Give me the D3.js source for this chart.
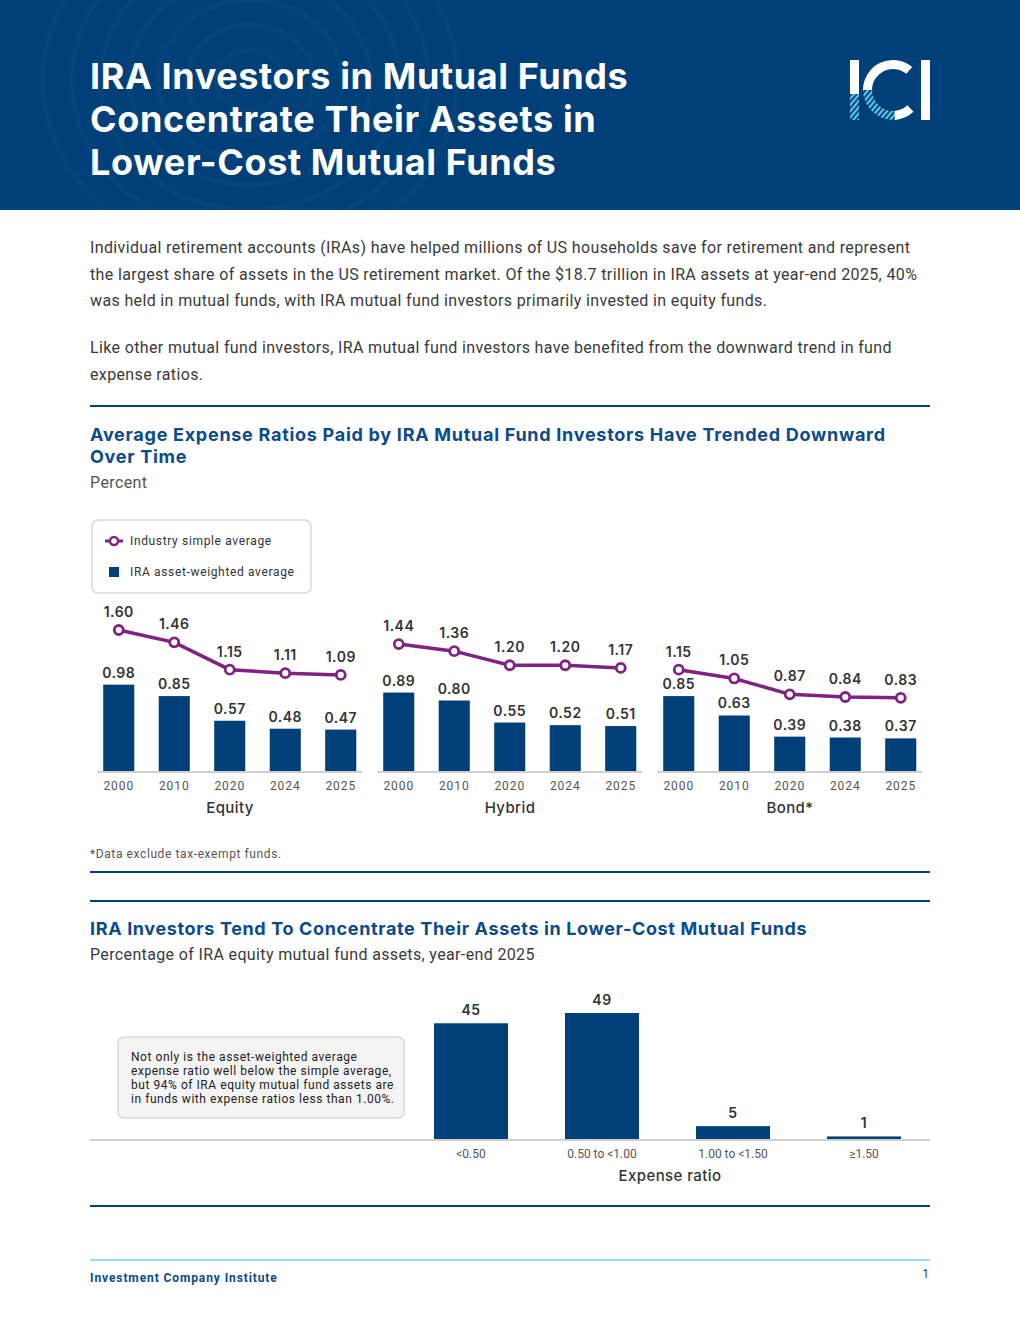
<!DOCTYPE html>
<html>
<head>
<meta charset="utf-8">
<script src="https://cdn.jsdelivr.net/npm/d3@7"></script>
<style>
  body { margin: 0; background: #fff; }
  svg { display: block; }
</style>
</head>
<body>
<svg id="page" width="1020" height="1320"></svg>
<script>
// ---- data ----
const years = ["2000", "2010", "2020", "2024", "2025"];
const fundTypes = ["Equity", "Hybrid", "Bond*"];
const equitySimple = [1.60, 1.46, 1.15, 1.11, 1.09];
const equityWeighted = [0.98, 0.85, 0.57, 0.48, 0.47];
const hybridSimple = [1.44, 1.36, 1.20, 1.20, 1.17];
const hybridWeighted = [0.89, 0.80, 0.55, 0.52, 0.51];
const bondSimple = [1.15, 1.05, 0.87, 0.84, 0.83];
const bondWeighted = [0.85, 0.63, 0.39, 0.38, 0.37];

const ratioBuckets = ["<0.50", "0.50 to <1.00", "1.00 to <1.50", "≥1.50"];
const bucketShares = [45, 49, 5, 1];

const navy = "#003f78";
const purple = "#7f2381";
const textDark = "#333";
const textGray = "#555";

const svg = d3.select("#page");
const body = "Roboto, 'Noto Sans', sans-serif";
const heading = "Inter, 'Open Sans', sans-serif";

// ---- header band ----
svg.append("rect").attr("width", 1020).attr("height", 210).attr("fill", navy);
const swirl = svg.append("g").attr("fill", "none").attr("stroke", "#ffffff")
  .attr("stroke-opacity", 0.025).attr("stroke-width", 5);
[30, 55, 80, 105, 130, 155, 180].forEach(r => {
  swirl.append("ellipse").attr("cx", 250).attr("cy", 80).attr("rx", r * 1.15).attr("ry", r);
});

const titleLines = ["IRA Investors in Mutual Funds", "Concentrate Their Assets in", "Lower-Cost Mutual Funds"];
svg.append("g").selectAll("text").data(titleLines).join("text")
  .attr("x", 90).attr("y", (d, i) => 89 + i * 43)
  .attr("fill", "#fff").attr("font-family", heading).attr("font-weight", 700)
  .attr("font-size", 36).attr("letter-spacing", 0.6)
  .text(d => d);

// ICI logo
const defs = svg.append("defs");
const hatch = defs.append("pattern").attr("id", "hatch").attr("patternUnits", "userSpaceOnUse")
  .attr("width", 4).attr("height", 4).attr("patternTransform", "rotate(40)");
hatch.append("rect").attr("width", 2.2).attr("height", 4).attr("fill", "#5ec3ea");

const logo = svg.append("g").attr("transform", "translate(850,60)");
logo.append("rect").attr("x", 0).attr("y", 0).attr("width", 9).attr("height", 34).attr("fill", "#fff");
logo.append("rect").attr("x", 0).attr("y", 34).attr("width", 9).attr("height", 26).attr("fill", "url(#hatch)");
logo.append("rect").attr("x", 71).attr("y", 0).attr("width", 9).attr("height", 60).attr("fill", "#fff");
const cArc = d3.arc().innerRadius(21).outerRadius(30);
const cCenter = "translate(43,30)";
logo.append("path").attr("transform", cCenter)
  .attr("d", cArc({ startAngle: Math.PI * 0.22, endAngle: -Math.PI * 0.5 })).attr("fill", "#fff");
logo.append("path").attr("transform", cCenter)
  .attr("d", cArc({ startAngle: -Math.PI * 0.5, endAngle: -Math.PI * 1.02 })).attr("fill", "url(#hatch)");
logo.append("path").attr("transform", cCenter)
  .attr("d", cArc({ startAngle: -Math.PI * 1.02, endAngle: -Math.PI * 1.24 })).attr("fill", "#fff");

// ---- intro text ----
const intro1 = [
  "Individual retirement accounts (IRAs) have helped millions of US households save for retirement and represent",
  "the largest share of assets in the US retirement market. Of the $18.7 trillion in IRA assets at year-end 2025, 40%",
  "was held in mutual funds, with IRA mutual fund investors primarily invested in equity funds."
];
const intro2 = [
  "Like other mutual fund investors, IRA mutual fund investors have benefited from the downward trend in fund",
  "expense ratios."
];
const introG = svg.append("g").attr("font-family", body).attr("font-size", 16)
  .attr("fill", "#3a3a3a").attr("letter-spacing", 0.36);
introG.selectAll(".p1").data(intro1).join("text").attr("class", "p1")
  .attr("x", 90).attr("y", (d, i) => 253 + i * 26.5).text(d => d);
introG.selectAll(".p2").data(intro2).join("text").attr("class", "p2")
  .attr("x", 90).attr("y", (d, i) => 353 + i * 26.5).text(d => d);

function rule(y, color, w) {
  svg.append("line").attr("x1", 90).attr("x2", 930).attr("y1", y).attr("y2", y)
    .attr("stroke", color || navy).attr("stroke-width", w || 2);
}
rule(406);

// ---- chart 1 ----
svg.append("text").attr("x", 90).attr("y", 441).attr("fill", "#0b4a8b")
  .attr("font-family", heading).attr("font-weight", 700).attr("font-size", 18).attr("letter-spacing", 0.72)
  .text("Average Expense Ratios Paid by IRA Mutual Fund Investors Have Trended Downward");
svg.append("text").attr("x", 90).attr("y", 463).attr("fill", "#0b4a8b")
  .attr("font-family", heading).attr("font-weight", 700).attr("font-size", 18).attr("letter-spacing", 0.72)
  .text("Over Time");
svg.append("text").attr("x", 90).attr("y", 488).attr("fill", textGray).attr("letter-spacing", 0.4)
  .attr("font-family", body).attr("font-size", 16).text("Percent");

// legend
const legend = svg.append("g").attr("transform", "translate(92,520)");
legend.append("rect").attr("width", 219).attr("height", 73).attr("rx", 6)
  .attr("fill", "#fff").attr("stroke", "#d9d9d9").attr("stroke-width", 1.5);
legend.append("line").attr("x1", 13).attr("x2", 31).attr("y1", 21).attr("y2", 21)
  .attr("stroke", purple).attr("stroke-width", 3);
legend.append("circle").attr("cx", 22).attr("cy", 21).attr("r", 4)
  .attr("fill", "#fff").attr("stroke", purple).attr("stroke-width", 2.5);
legend.append("rect").attr("x", 17).attr("y", 47).attr("width", 10).attr("height", 10).attr("fill", navy);
const legText = legend.append("g").attr("font-family", body).attr("font-size", 12)
  .attr("fill", textDark).attr("letter-spacing", 0.65);
legText.append("text").attr("x", 38).attr("y", 25).text("Industry simple average");
legText.append("text").attr("x", 38).attr("y", 56).text("IRA asset-weighted average");

const y1 = d3.scaleLinear().domain([0, 1.6]).range([771, 630]);
const panels = [
  { name: fundTypes[0], simple: equitySimple, weighted: equityWeighted, x0: 91 },
  { name: fundTypes[1], simple: hybridSimple, weighted: hybridWeighted, x0: 371 },
  { name: fundTypes[2], simple: bondSimple, weighted: bondWeighted, x0: 651 }
];

panels.forEach(p => {
  const x = d3.scaleBand().domain(years).range([p.x0, p.x0 + 277.5])
    .paddingInner(0.44).paddingOuter(0.22);
  const cx = (d, i) => x(years[i]) + x.bandwidth() / 2;
  const g = svg.append("g");

  g.selectAll(".bar").data(p.weighted).join("rect").attr("class", "bar")
    .attr("x", (d, i) => x(years[i])).attr("width", x.bandwidth())
    .attr("y", d => y1(d)).attr("height", d => y1(0) - y1(d))
    .attr("fill", navy);

  g.append("line").attr("x1", p.x0 + 6).attr("x2", p.x0 + 271)
    .attr("y1", y1(0) + 1).attr("y2", y1(0) + 1).attr("stroke", "#cfcfcf").attr("stroke-width", 2);

  g.selectAll(".blab").data(p.weighted).join("text").attr("class", "blab")
    .attr("x", cx).attr("y", d => y1(d) - 7)
    .attr("text-anchor", "middle").attr("font-family", heading).attr("font-weight", 600)
    .attr("font-size", 14).attr("letter-spacing", 0.5).attr("fill", textDark).text(d => d.toFixed(2));

  const line = d3.line().x(cx).y(d => y1(d));
  g.append("path").datum(p.simple).attr("d", line)
    .attr("fill", "none").attr("stroke", purple).attr("stroke-width", 3.5);
  g.selectAll(".dot").data(p.simple).join("circle").attr("class", "dot")
    .attr("cx", cx).attr("cy", d => y1(d)).attr("r", 4.5)
    .attr("fill", "#fff").attr("stroke", purple).attr("stroke-width", 2.8);
  g.selectAll(".llab").data(p.simple).join("text").attr("class", "llab")
    .attr("x", cx).attr("y", d => y1(d) - 13)
    .attr("text-anchor", "middle").attr("font-family", heading).attr("font-weight", 600)
    .attr("font-size", 14).attr("letter-spacing", 0.5).attr("fill", textDark).text(d => d.toFixed(2));

  const axis = g.append("g").attr("transform", `translate(0,${y1(0) + 1})`)
    .call(d3.axisBottom(x).tickSize(0).tickPadding(9));
  axis.select(".domain").remove();
  axis.selectAll("text").attr("font-family", body).attr("font-size", 12)
    .attr("letter-spacing", 0.9).attr("fill", textGray);

  g.append("text").attr("x", p.x0 + 139).attr("y", 813).attr("text-anchor", "middle")
    .attr("font-family", heading).attr("font-weight", 500).attr("font-size", 15).attr("letter-spacing", 0.4)
    .attr("fill", textDark).text(p.name);
});

svg.append("text").attr("x", 90).attr("y", 858).attr("font-family", body).attr("font-size", 12)
  .attr("letter-spacing", 0.6).attr("fill", textGray).text("*Data exclude tax-exempt funds.");
rule(872);
rule(901);

// ---- chart 2 ----
svg.append("text").attr("x", 90).attr("y", 935).attr("fill", "#0b4a8b")
  .attr("font-family", heading).attr("font-weight", 700).attr("font-size", 18).attr("letter-spacing", 0.64)
  .text("IRA Investors Tend To Concentrate Their Assets in Lower-Cost Mutual Funds");
svg.append("text").attr("x", 90).attr("y", 960).attr("fill", "#3a3a3a")
  .attr("font-family", body).attr("font-size", 16).attr("letter-spacing", 0.36)
  .text("Percentage of IRA equity mutual fund assets, year-end 2025");

const x2 = d3.scaleBand().domain(ratioBuckets).range([405.5, 929.5])
  .paddingInner(0.435).paddingOuter(0.2175);
const y2 = d3.scaleLinear().domain([0, 49]).range([1139, 1013]);

svg.append("line").attr("x1", 90).attr("x2", 930).attr("y1", 1140).attr("y2", 1140)
  .attr("stroke", "#cfcfcf").attr("stroke-width", 2);
svg.append("g").selectAll("rect").data(bucketShares).join("rect")
  .attr("x", (d, i) => x2(ratioBuckets[i])).attr("width", x2.bandwidth())
  .attr("y", d => y2(d)).attr("height", d => y2(0) - y2(d)).attr("fill", navy);
svg.append("g").selectAll("text").data(bucketShares).join("text")
  .attr("x", (d, i) => x2(ratioBuckets[i]) + x2.bandwidth() / 2).attr("y", d => y2(d) - 8)
  .attr("text-anchor", "middle").attr("font-family", heading).attr("font-weight", 600)
  .attr("font-size", 14).attr("letter-spacing", 0.5).attr("fill", textDark).text(d => d);
const axis2 = svg.append("g").attr("transform", "translate(0,1141)")
  .call(d3.axisBottom(x2).tickSize(0).tickPadding(8));
axis2.select(".domain").remove();
axis2.selectAll("text").attr("font-family", body).attr("font-size", 12).attr("fill", textGray);
svg.append("text").attr("x", 670).attr("y", 1181).attr("text-anchor", "middle")
  .attr("font-family", heading).attr("font-weight", 500).attr("font-size", 15).attr("letter-spacing", 0.4)
  .attr("fill", textDark).text("Expense ratio");

// annotation
const note = svg.append("g").attr("transform", "translate(118,1037)");
note.append("rect").attr("width", 286).attr("height", 81).attr("rx", 6)
  .attr("fill", "#f4f4f4").attr("stroke", "#d9d9d9").attr("stroke-width", 1.5);
const noteLines = [
  "Not only is the asset-weighted average",
  "expense ratio well below the simple average,",
  "but 94% of IRA equity mutual fund assets are",
  "in funds with expense ratios less than 1.00%."
];
note.selectAll("text").data(noteLines).join("text")
  .attr("x", 13).attr("y", (d, i) => 24 + i * 14)
  .attr("font-family", body).attr("font-size", 12).attr("letter-spacing", 0.55)
  .attr("fill", "#222").text(d => d);

rule(1206);

// ---- footer ----
svg.append("line").attr("x1", 90).attr("x2", 930).attr("y1", 1260).attr("y2", 1260)
  .attr("stroke", "#9fdbe9").attr("stroke-width", 2);
svg.append("text").attr("x", 90).attr("y", 1282).attr("font-family", body).attr("font-weight", 700)
  .attr("font-size", 12).attr("letter-spacing", 0.9).attr("fill", "#0b4a8b").text("Investment Company Institute");
svg.append("text").attr("x", 929).attr("y", 1278).attr("text-anchor", "end").attr("font-family", body)
  .attr("font-size", 12).attr("fill", "#0b4a8b").text("1");
</script>
</body>
</html>
